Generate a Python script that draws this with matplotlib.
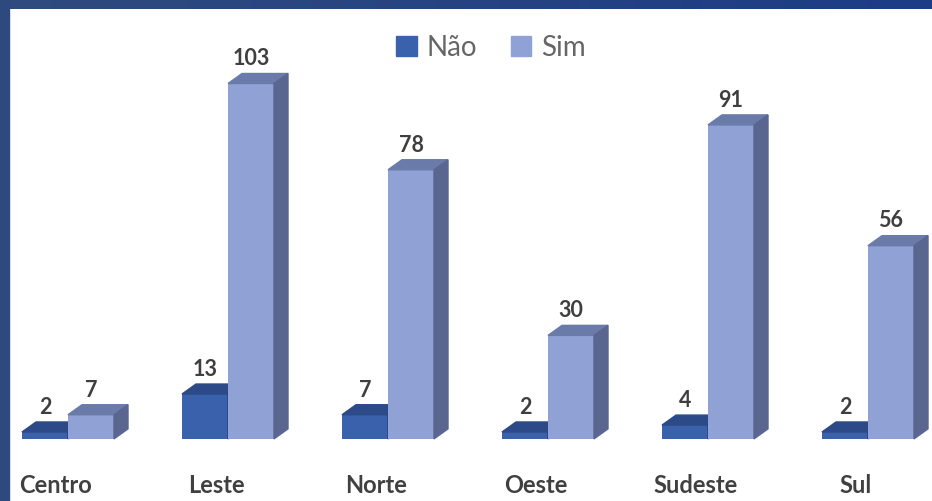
import numpy as np
import matplotlib
matplotlib.use("Agg")
import matplotlib.pyplot as plt
from matplotlib.patches import Polygon, Rectangle
from matplotlib.colors import LinearSegmentedColormap

plt.rcParams['font.family'] = ['Lato', 'DejaVu Sans']

regioes = ["Centro", "Leste", "Norte", "Oeste", "Sudeste", "Sul"]
nao = [2, 13, 7, 2, 4, 2]
sim = [7, 103, 78, 30, 91, 56]

# cores (frente, topo, lateral)
cor_nao = ("#3A62AC", "#2B4A87", "#264078")
cor_sim = ("#8FA1D5", "#6A7BAA", "#5A6690")

largura = 0.2875      # largura de cada barra (unid. de categoria)
dx, dy = 0.0875, 2.9  # profundidade do efeito 3D

fig = plt.figure(figsize=(9.32, 5.01), dpi=100)
ax = fig.add_axes([0, 0, 1, 1])
ax.set_xlim(-0.425, 5.4)
ax.set_ylim(-18, 127.2)
ax.axis("off")


def barra_3d(x0, h, cores, z):
    frente, topo, lado = cores
    ax.bar(x0, h, width=largura, align="edge", color=frente, zorder=z)
    x1 = x0 + largura
    ax.add_patch(Polygon([(x0, h), (x1, h), (x1 + dx, h + dy), (x0 + dx, h + dy)],
                         closed=True, color=topo, zorder=z))
    ax.add_patch(Polygon([(x1, 0), (x1 + dx, dy), (x1 + dx, h + dy), (x1, h)],
                         closed=True, color=lado, zorder=z))


x = np.arange(len(regioes))
for i in x:
    barra_3d(i - largura, nao[i], cor_nao, 2)
    barra_3d(i, sim[i], cor_sim, 3)
    ax.annotate(str(nao[i]), (i - largura / 2, nao[i] + dy), xytext=(0, 3),
                textcoords="offset points", ha="center", va="bottom",
                fontsize=15.5, fontweight="bold", color="#3F3F3F", zorder=5)
    ax.annotate(str(sim[i]), (i + largura / 2, sim[i] + dy), xytext=(0, 3),
                textcoords="offset points", ha="center", va="bottom",
                fontsize=15.5, fontweight="bold", color="#3F3F3F", zorder=5)
    ax.text(i - 0.075, -13.4, regioes[i], ha="center", va="center",
            fontsize=17, fontweight="bold", color="#404040")

# legenda
h1 = Rectangle((0, 0), 1, 1, color=cor_nao[0])
h2 = Rectangle((0, 0), 1, 1, color=cor_sim[0])
fig.legend([h1, h2], ["Não", "Sim"], loc="center", bbox_to_anchor=(491 / 932, 1 - 48 / 501),
           ncol=2, frameon=False, fontsize=20, labelcolor="#666666",
           handlelength=0.75, handleheight=0.75, handletextpad=0.35, columnspacing=1.2)

# moldura azul (topo e esquerda)
borda_top = fig.add_axes([0, 1 - 9 / 501, 1, 9 / 501])
borda_top.imshow(np.linspace(0, 1, 256)[None, :], aspect="auto",
                 cmap=LinearSegmentedColormap.from_list("b", ["#2F4B7E", "#1C3C86"]))
borda_top.axis("off")
fig.patches.append(Rectangle((0, 0), 9 / 932, 1, transform=fig.transFigure,
                             color="#2D497E", zorder=10))

fig.savefig("out.png", dpi=100)
